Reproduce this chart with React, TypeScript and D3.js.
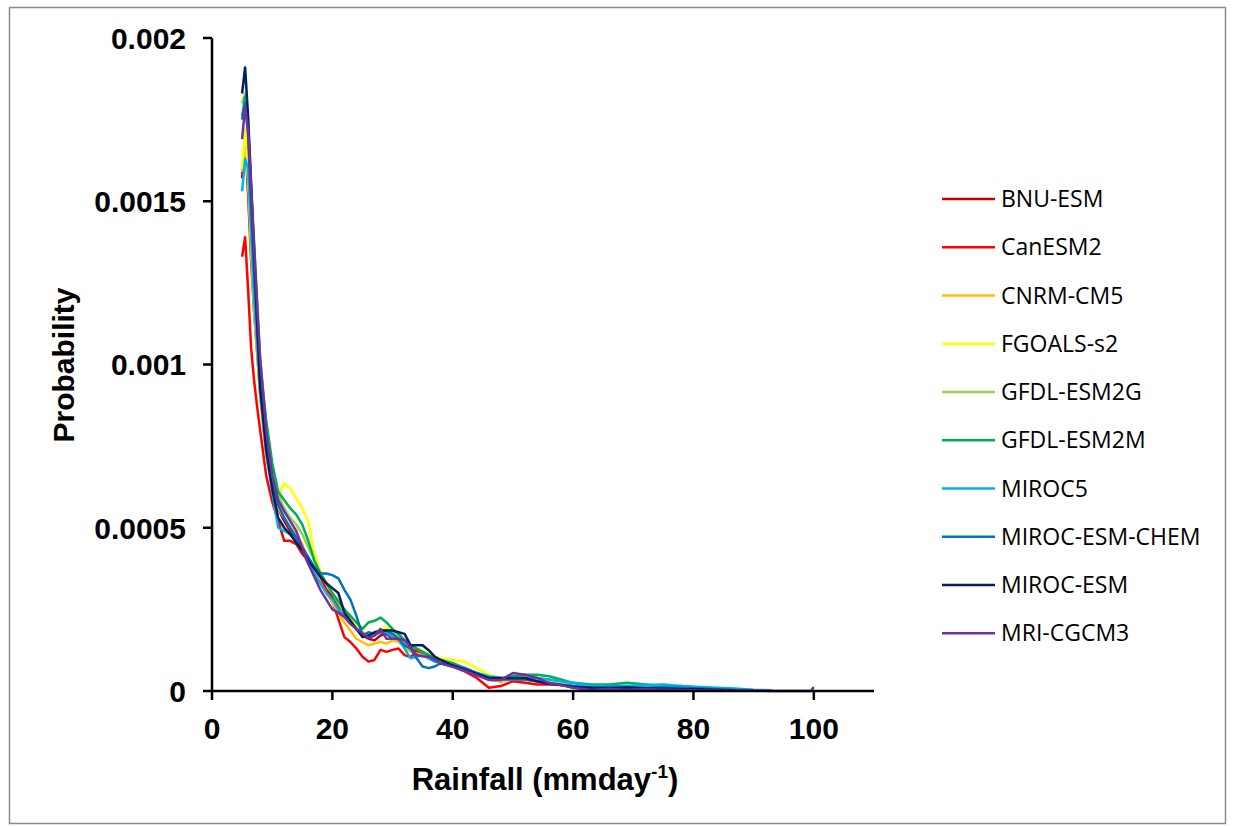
import React, { useEffect, useRef } from "react"
import * as d3 from "d3"

// rainfall grid (mm/day) shared by all models
const rainfall = [
	5, 5.5, 6, 6.5, 7, 7.5, 8,
	9, 10, 11, 12, 13, 14, 15, 16, 17, 18, 19, 20, 21, 22, 23, 24, 25, 26, 27, 28, 29, 30, 31, 32, 33, 34, 35, 36, 37, 38,
	40, 42, 44, 46, 48, 50, 52, 54, 56, 58, 60,
	63, 66, 69, 72, 75, 78, 81, 84, 87, 90, 93, 96,
	99.5, 100,
]

// probabilities in units of 1e-4
const bnuEsm = [
	15.7, 17.0, 15.2, 13.2, 11.6, 10.4, 9.1,
	7.3, 6.3, 5.6, 5.2, 4.9, 4.7, 4.3, 3.9, 3.6, 3.3, 3.1, 2.9, 2.6, 2.4, 2.2, 1.9, 1.7, 1.6, 1.55, 1.7, 1.75, 1.6, 1.55, 1.4, 1.3, 1.25, 1.15, 1.05, 0.95, 0.9,
	0.8, 0.65, 0.5, 0.35, 0.3, 0.4, 0.35, 0.3, 0.28, 0.22, 0.18,
	0.12, 0.1, 0.12, 0.1, 0.1, 0.08, 0.1, 0.05, 0.03, 0.02, null, null,
	null, null,
]
const canEsm2 = [
	13.3, 13.9, 12.3, 10.5, 9.5, 8.7, 8.0,
	6.6, 5.8, 5.2, 4.6, 4.6, 4.5, 4.2, 4.0, 3.7, 3.5, 3.1, 2.75, 2.2, 1.65, 1.5, 1.3, 1.05, 0.9, 0.95, 1.26, 1.2, 1.26, 1.3, 1.1, 1.04, 1.2, 1.15, 1.0, 0.95, 0.85,
	0.75, 0.6, 0.4, 0.1, 0.15, 0.3, 0.25, 0.2, 0.2, 0.18, 0.15,
	0.1, 0.08, 0.12, 0.15, 0.12, 0.15, 0.1, 0.02, null, null, null, null,
	null, null,
]
const cnrmCm5 = [
	15.9, 16.6, 15.6, 13.4, 11.6, 10.3, 9.0,
	7.2, 6.2, 5.6, 5.3, 5.0, 4.8, 4.5, 4.0, 3.7, 3.3, 3.0, 2.7, 2.4, 2.1, 1.85, 1.6, 1.5, 1.4, 1.45, 1.5, 1.45, 1.55, 1.5, 1.35, 1.2, 1.15, 1.1, 1.05, 0.95, 0.9,
	0.8, 0.65, 0.5, 0.35, 0.3, 0.35, 0.35, 0.3, 0.25, 0.2, 0.1,
	0.05, 0.08, 0.1, 0.1, 0.08, 0.06, 0.05, 0.03, 0.02, null, null, null,
	null, null,
]
const fgoalsS2 = [
	16.0, 17.2, 16.0, 14.0, 12.2, 10.8, 9.6,
	7.8, 6.8, 6.0, 6.35, 6.2, 5.9, 5.6, 5.2, 4.2, 3.7, 3.3, 3.0, 2.7, 2.4, 2.2, 2.0, 1.8, 1.75, 1.8, 1.9, 1.95, 1.8, 1.7, 1.55, 1.35, 1.3, 1.2, 1.15, 1.05, 1.0,
	0.95, 0.9, 0.7, 0.5, 0.4, 0.4, 0.4, 0.35, 0.3, 0.25, 0.2,
	0.15, 0.15, 0.12, 0.1, 0.1, 0.12, 0.08, 0.05, 0.03, 0.02, null, null,
	null, null,
]
const gfdlEsm2g = [
	18.0, 18.3, 17.4, 15.6, 13.8, 12.0, 10.2,
	8.2, 6.8, 6.0, 5.6, 5.3, 5.1, 4.8, 4.4, 4.0, 3.6, 3.3, 3.0, 2.7, 2.4, 2.1, 1.9, 1.75, 1.7, 1.7, 1.85, 1.85, 1.8, 1.7, 1.5, 1.35, 1.3, 1.2, 1.1, 1.0, 0.95,
	0.85, 0.7, 0.55, 0.4, 0.35, 0.4, 0.45, 0.4, 0.35, 0.3, 0.2,
	0.12, 0.15, 0.15, 0.12, 0.1, 0.1, 0.08, 0.05, 0.03, 0.02, null, null,
	null, null,
]
const gfdlEsm2m = [
	17.6, 18.2, 17.2, 15.4, 13.6, 11.8, 10.0,
	8.3, 7.0, 6.1, 5.85, 5.6, 5.4, 5.1, 4.6, 4.0, 3.6, 3.3, 3.0, 2.75, 2.5, 2.3, 2.1, 1.9, 2.1, 2.15, 2.25, 2.1, 1.9, 1.75, 1.55, 1.4, 1.3, 1.2, 1.1, 1.0, 0.95,
	0.85, 0.7, 0.55, 0.42, 0.38, 0.45, 0.5, 0.5, 0.45, 0.35, 0.25,
	0.2, 0.2, 0.25, 0.2, 0.15, 0.12, 0.1, 0.06, 0.04, 0.02, null, null,
	null, null,
]
const miroc5 = [
	15.3, 16.3, 16.0, 14.0, 12.0, 10.6, 9.2,
	7.3, 6.1, 5.0, 4.9, 4.8, 4.6, 4.3, 4.0, 3.6, 3.3, 3.0, 2.8, 2.5, 2.3, 2.1, 1.9, 1.75, 1.65, 1.7, 1.8, 1.8, 1.65, 1.6, 1.3, 1.0, 1.05, 1.1, 1.0, 0.9, 0.85,
	0.8, 0.7, 0.55, 0.45, 0.4, 0.4, 0.4, 0.4, 0.35, 0.3, 0.25,
	0.15, 0.15, 0.15, 0.18, 0.2, 0.15, 0.12, 0.1, 0.08, 0.04, 0.02, null,
	null, null,
]
const mirocEsmChem = [
	17.5, 18.0, 17.0, 14.8, 12.8, 11.2, 9.6,
	7.6, 6.4, 5.7, 5.3, 5.0, 4.7, 4.4, 4.1, 3.8, 3.6, 3.6, 3.55, 3.45, 3.1, 2.8, 2.3, 1.7, 1.8, 1.75, 1.8, 1.85, 1.75, 1.6, 1.4, 1.3, 1.0, 0.75, 0.7, 0.75, 0.85,
	0.8, 0.7, 0.55, 0.4, 0.35, 0.35, 0.35, 0.3, 0.25, 0.2, 0.15,
	0.1, 0.12, 0.12, 0.1, 0.1, 0.1, 0.08, 0.05, 0.03, 0.02, null, null,
	null, null,
]
const mirocEsm = [
	18.3, 19.1, 17.6, 15.5, 13.4, 11.3, 9.3,
	7.4, 6.2, 5.3, 5.0, 4.8, 4.55, 4.3, 4.0, 3.75, 3.5, 3.3, 3.15, 3.0, 2.4, 2.15, 1.9, 1.65, 1.7, 1.8, 1.85, 1.85, 1.85, 1.8, 1.75, 1.4, 1.4, 1.4, 1.25, 1.05, 0.95,
	0.78, 0.65, 0.52, 0.4, 0.4, 0.4, 0.4, 0.3, 0.22, 0.18, 0.12,
	0.1, 0.08, 0.1, 0.08, 0.08, 0.05, 0.05, 0.03, 0.02, null, null, null,
	null, null,
]
const mriCgcm3 = [
	16.9, 17.9, 17.2, 15.4, 13.6, 11.8, 10.2,
	8.0, 6.6, 5.85, 5.5, 5.2, 4.9, 4.4, 3.9, 3.5, 3.1, 2.8, 2.5, 2.4, 2.27, 2.05, 1.9, 1.78, 1.62, 1.7, 1.9, 1.6, 1.6, 1.6, 1.56, 1.35, 1.1, 1.06, 1.06, 0.95, 0.85,
	0.74, 0.62, 0.48, 0.34, 0.34, 0.55, 0.5, 0.4, 0.24, 0.18, 0.1,
	0.03, 0.06, 0.04, 0.05, 0.04, 0.03, 0.02, 0.01, 0.01, 0.01, 0.0, 0.0,
	0.0, 0.12,
]

const models = [
	"BNU-ESM",
	"CanESM2",
	"CNRM-CM5",
	"FGOALS-s2",
	"GFDL-ESM2G",
	"GFDL-ESM2M",
	"MIROC5",
	"MIROC-ESM-CHEM",
	"MIROC-ESM",
	"MRI-CGCM3",
]
const modelValues = [
	bnuEsm,
	canEsm2,
	cnrmCm5,
	fgoalsS2,
	gfdlEsm2g,
	gfdlEsm2m,
	miroc5,
	mirocEsmChem,
	mirocEsm,
	mriCgcm3,
]
const colors = [
	"#C00000",
	"#FF0000",
	"#FFC000",
	"#FFFF00",
	"#92D050",
	"#00B050",
	"#00B0F0",
	"#0070C0",
	"#002060",
	"#7030A0",
]

const xTicks = [0, 20, 40, 60, 80, 100]
const yTicks = [0, 0.0005, 0.001, 0.0015, 0.002]
const yTickLabels = ["0", "0.0005", "0.001", "0.0015", "0.002"]

const width = 1233
const height = 826

const App: React.FC = () => {
	const ref = useRef<SVGSVGElement>(null)

	useEffect(() => {
		const svg = d3.select(ref.current)
		svg.selectAll("*").remove()

		const margin = { top: 38, right: 359, bottom: 135, left: 212 }
		const x = d3.scaleLinear().domain([0, 110]).range([margin.left, width - margin.right])
		const y = d3.scaleLinear().domain([0, 0.002]).range([height - margin.bottom, margin.top])
		const font = "'Liberation Sans', Arial, sans-serif"

		// outer frame
		svg.append("rect")
			.attr("x", 9.5)
			.attr("y", 7.5)
			.attr("width", 1216)
			.attr("height", 816)
			.attr("fill", "white")
			.attr("stroke", "#8c8c8c")
			.attr("stroke-width", 1.5)

		// series
		const line = d3
			.line<number | null>()
			.defined((d) => d !== null)
			.x((d, i) => x(rainfall[i]))
			.y((d) => y((d as number) * 1e-4))

		const g = svg.append("g")
		modelValues.forEach((vals, i) => {
			g.append("path")
				.datum(vals)
				.attr("d", line)
				.attr("fill", "none")
				.attr("stroke", colors[i])
				.attr("stroke-width", 2.5)
				.attr("stroke-linejoin", "round")
		})

		// axes
		const axisColor = "#000"
		svg.append("line")
			.attr("x1", x(0)).attr("x2", x(0))
			.attr("y1", y(0.002)).attr("y2", y(0))
			.attr("stroke", axisColor).attr("stroke-width", 2.5)
		svg.append("line")
			.attr("x1", x(0)).attr("x2", x(110))
			.attr("y1", y(0)).attr("y2", y(0))
			.attr("stroke", axisColor).attr("stroke-width", 2.5)

		yTicks.forEach((t, i) => {
			svg.append("line")
				.attr("x1", x(0) - 9).attr("x2", x(0))
				.attr("y1", y(t)).attr("y2", y(t))
				.attr("stroke", axisColor).attr("stroke-width", 2.5)
			svg.append("text")
				.attr("x", x(0) - 26)
				.attr("y", y(t))
				.attr("dy", "0.36em")
				.attr("text-anchor", "end")
				.attr("font-family", font)
				.attr("font-weight", "bold")
				.attr("font-size", 30)
				.text(yTickLabels[i])
		})

		xTicks.forEach((t) => {
			svg.append("line")
				.attr("x1", x(t)).attr("x2", x(t))
				.attr("y1", y(0)).attr("y2", y(0) + 9)
				.attr("stroke", axisColor).attr("stroke-width", 2.5)
			svg.append("text")
				.attr("x", x(t))
				.attr("y", 739)
				.attr("text-anchor", "middle")
				.attr("font-family", font)
				.attr("font-weight", "bold")
				.attr("font-size", 30)
				.text(t)
		})

		// axis titles
		svg.append("text")
			.attr("transform", "translate(74,365) rotate(-90)")
			.attr("text-anchor", "middle")
			.attr("font-family", font)
			.attr("font-weight", "bold")
			.attr("font-size", 30)
			.text("Probability")

		const xt = svg.append("text")
			.attr("x", 545)
			.attr("y", 790)
			.attr("text-anchor", "middle")
			.attr("font-family", font)
			.attr("font-weight", "bold")
			.attr("font-size", 31)
		xt.append("tspan").text("Rainfall (mmday")
		xt.append("tspan").attr("font-size", 19).attr("dy", -12).text("-1")
		xt.append("tspan").attr("dy", 12).text(")")

		// legend
		const lg = svg.append("g")
		models.forEach((m, i) => {
			const ly = 199 + i * 48.25
			lg.append("line")
				.attr("x1", 942).attr("x2", 995)
				.attr("y1", ly).attr("y2", ly)
				.attr("stroke", colors[i])
				.attr("stroke-width", 2.5)
			lg.append("text")
				.attr("x", 1001)
				.attr("y", ly)
				.attr("dy", "0.35em")
				.attr("font-family", "'Open Sans', 'Liberation Sans', sans-serif")
				.attr("font-size", 23)
				.attr("fill", "#000")
				.text(m)
		})
	}, [])

	return (
		<div style={{ position: "absolute", left: 0, top: 0 }}>
			<svg ref={ref} width={width} height={height} style={{ display: "block" }} />
		</div>
	)
}

export default App
